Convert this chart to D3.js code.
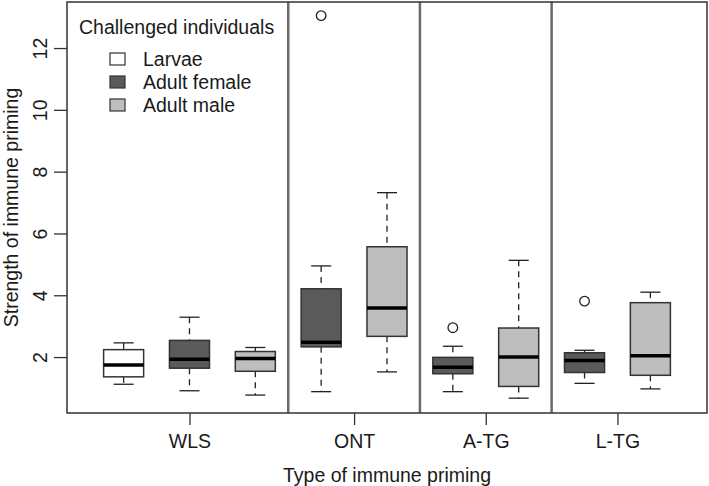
<!DOCTYPE html>
<html>
<head>
<meta charset="utf-8">
<script src="https://cdn.jsdelivr.net/npm/d3@7"></script>
<style>
  html, body { margin: 0; padding: 0; background: #fff; }
  svg { display: block; font-family: "Liberation Sans", Arial, sans-serif; }
</style>
</head>
<body>
<svg id="chart" width="709" height="486"></svg>
<script>
// ---- Data ----
const categories = ["WLS", "ONT", "A-TG", "L-TG"];
const seriesNames = ["Larvae", "Adult female", "Adult male"];
const seriesColors = ["#ffffff", "#5a5a5a", "#bebebe"];

// one entry per box, in drawing order
const boxCategory = ["WLS", "WLS", "WLS", "ONT", "ONT", "A-TG", "A-TG", "L-TG", "L-TG"];
const boxSeries   = ["Larvae", "Adult female", "Adult male", "Adult female", "Adult male",
                     "Adult female", "Adult male", "Adult female", "Adult male"];
const whiskerLow  = [1.12, 0.91, 0.77, 0.88, 1.52, 0.88, 0.67, 1.15, 0.97];
const quartile1   = [1.36, 1.64, 1.54, 2.33, 2.67, 1.46, 1.05, 1.50, 1.41];
const medians     = [1.74, 1.93, 1.95, 2.48, 3.59, 1.67, 2.00, 1.89, 2.04];
const quartile3   = [2.24, 2.54, 2.18, 4.21, 5.57, 1.99, 2.94, 2.14, 3.76];
const whiskerHigh = [2.46, 3.29, 2.31, 4.95, 7.32, 2.35, 5.13, 2.22, 4.10];
const outliers    = [[], [], [], [13.05], [], [2.95], [], [3.81], []];

const yTicks = [2, 4, 6, 8, 10, 12];
const yTitle = "Strength of immune priming";
const xTitle = "Type of immune priming";
const legendTitle = "Challenged individuals";

// ---- Layout ----
const svg = d3.select("#chart");
const plot = { left: 67, right: 707, top: 2, bottom: 413 };
const font = 19.5;
const nBoxes = medians.length;

const x = d3.scaleLinear()
  .domain([0.5 - 0.04 * nBoxes, nBoxes + 0.5 + 0.04 * nBoxes])
  .range([plot.left, plot.right]);
const y = d3.scaleLinear()
  .domain([0.19, 13.49])
  .range([plot.bottom, plot.top]);

const boxHalf = 0.304;   // in x units
const capHalf = 0.152;
const color = d3.scaleOrdinal().domain(seriesNames).range(seriesColors);

const boxes = medians.map((m, i) => ({
  pos: i + 1,
  cat: boxCategory[i],
  ser: boxSeries[i],
  lo: whiskerLow[i], q1: quartile1[i], med: m, q3: quartile3[i], hi: whiskerHigh[i],
  out: outliers[i]
}));

// category positions = mean box position within category
const catPos = categories.map(c => d3.mean(boxes.filter(b => b.cat === c), b => b.pos));
// separators between categories
const seps = categories.slice(0, -1).map(c => d3.max(boxes.filter(b => b.cat === c), b => b.pos) + 0.5);

// ---- Separators ----
svg.append("g").selectAll("line").data(seps).join("line")
  .attr("x1", d => x(d)).attr("x2", d => x(d))
  .attr("y1", plot.top).attr("y2", plot.bottom)
  .attr("stroke", "#6a6a6a").attr("stroke-width", 2.5);

// ---- Boxes ----
const g = svg.append("g").selectAll("g").data(boxes).join("g");

// whiskers (dashed)
g.append("line")
  .attr("x1", d => x(d.pos)).attr("x2", d => x(d.pos))
  .attr("y1", d => y(d.hi)).attr("y2", d => y(d.q3))
  .attr("stroke", "#222").attr("stroke-width", 1.3).attr("stroke-dasharray", "6,5");
g.append("line")
  .attr("x1", d => x(d.pos)).attr("x2", d => x(d.pos))
  .attr("y1", d => y(d.q1)).attr("y2", d => y(d.lo))
  .attr("stroke", "#222").attr("stroke-width", 1.3).attr("stroke-dasharray", "6,5");
// caps
g.append("line")
  .attr("x1", d => x(d.pos - capHalf)).attr("x2", d => x(d.pos + capHalf))
  .attr("y1", d => y(d.hi)).attr("y2", d => y(d.hi))
  .attr("stroke", "#222").attr("stroke-width", 1.3);
g.append("line")
  .attr("x1", d => x(d.pos - capHalf)).attr("x2", d => x(d.pos + capHalf))
  .attr("y1", d => y(d.lo)).attr("y2", d => y(d.lo))
  .attr("stroke", "#222").attr("stroke-width", 1.3);
// box
g.append("rect")
  .attr("x", d => x(d.pos - boxHalf))
  .attr("width", d => x(d.pos + boxHalf) - x(d.pos - boxHalf))
  .attr("y", d => y(d.q3))
  .attr("height", d => y(d.q1) - y(d.q3))
  .attr("fill", d => color(d.ser))
  .attr("stroke", "#333").attr("stroke-width", 1.5);
// median
g.append("line")
  .attr("x1", d => x(d.pos - boxHalf)).attr("x2", d => x(d.pos + boxHalf))
  .attr("y1", d => y(d.med)).attr("y2", d => y(d.med))
  .attr("stroke", "#000").attr("stroke-width", 3.5);
// outliers
g.selectAll("circle").data(d => d.out.map(v => ({ pos: d.pos, v }))).join("circle")
  .attr("cx", d => x(d.pos)).attr("cy", d => y(d.v)).attr("r", 4.8)
  .attr("fill", "none").attr("stroke", "#222").attr("stroke-width", 1.3);

// ---- Plot frame ----
svg.append("rect")
  .attr("x", plot.left).attr("y", plot.top)
  .attr("width", plot.right - plot.left).attr("height", plot.bottom - plot.top)
  .attr("fill", "none").attr("stroke", "#333").attr("stroke-width", 1.5);

// ---- Y axis ----
const yAxis = svg.append("g")
  .attr("transform", `translate(${plot.left},0)`)
  .call(d3.axisLeft(y).tickValues(yTicks).tickSize(13).tickFormat(d3.format("d")));
yAxis.select(".domain").remove();
yAxis.selectAll(".tick line").attr("stroke", "#333").attr("stroke-width", 1.3);
yAxis.selectAll(".tick text")
  .attr("transform", "rotate(-90)")
  .attr("x", 0).attr("y", -20.5).attr("dy", 0)
  .attr("text-anchor", "middle")
  .attr("font-size", font).attr("font-family", "Liberation Sans, Arial, sans-serif")
  .attr("fill", "#1a1a1a");

// ---- X axis ----
const xAxis = svg.append("g")
  .attr("transform", `translate(0,${plot.bottom})`)
  .call(d3.axisBottom(x).tickValues(catPos).tickSize(12)
    .tickFormat((d, i) => categories[i]));
xAxis.select(".domain").remove();
xAxis.selectAll(".tick line").attr("stroke", "#333").attr("stroke-width", 1.3);
xAxis.selectAll(".tick text")
  .attr("y", 35).attr("dy", 0)
  .attr("font-size", font).attr("font-family", "Liberation Sans, Arial, sans-serif")
  .attr("fill", "#1a1a1a");

// ---- Axis titles ----
svg.append("text")
  .attr("x", (plot.left + plot.right) / 2).attr("y", 482)
  .attr("text-anchor", "middle").attr("font-size", font).attr("fill", "#1a1a1a")
  .text(xTitle);
svg.append("text")
  .attr("transform", `translate(17.5,${(plot.top + plot.bottom) / 2}) rotate(-90)`)
  .attr("text-anchor", "middle").attr("font-size", font).attr("fill", "#1a1a1a")
  .text(yTitle);

// ---- Legend ----
const legend = svg.append("g");
legend.append("text")
  .attr("x", 79).attr("y", 34)
  .attr("font-size", font).attr("fill", "#1a1a1a")
  .text(legendTitle);
const items = legend.selectAll("g.item").data(seriesNames).join("g").attr("class", "item")
  .attr("transform", (d, i) => `translate(0,${59 + i * 23})`);
items.append("rect")
  .attr("x", 110).attr("y", -6).attr("width", 15).attr("height", 12)
  .attr("fill", d => color(d)).attr("stroke", "#333").attr("stroke-width", 1.2);
items.append("text")
  .attr("x", 143).attr("y", 7)
  .attr("font-size", font).attr("fill", "#1a1a1a")
  .text(d => d);
</script>
</body>
</html>
